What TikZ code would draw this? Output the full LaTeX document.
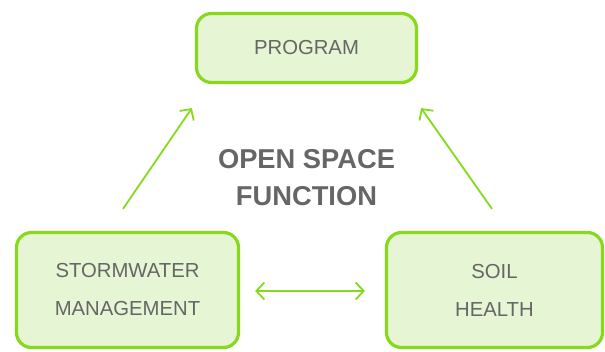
\documentclass[tikz,border=0pt]{standalone}
\usepackage{fontspec}
\setmainfont{Liberation Sans}
\usepackage{tikz}
\usetikzlibrary{arrows.meta,positioning,calc}
\definecolor{limeline}{HTML}{86D91B}
\definecolor{limefill}{HTML}{E6F5D3}
\definecolor{labelgray}{HTML}{666666}

\begin{document}
\begin{tikzpicture}[x=1pt,y=-1pt,
    box/.style={draw=limeline, fill=limefill, line width=3.2pt, rounded corners=15pt,
                align=center, text=labelgray, inner sep=0pt,
                font=\fontsize{20.3}{38}\selectfont},
    link/.style={draw=limeline, line width=1.8pt, -{Straight Barb[length=8pt,width=17pt]}},
    bilink/.style={draw=limeline, line width=1.8pt,
                   {Straight Barb[length=8pt,width=17pt]}-{Straight Barb[length=8pt,width=17pt]}}]
  \useasboundingbox (0,0) rectangle (605,352);

  \node[box, minimum width=220pt, minimum height=69pt] (program) at (306.5,48) {PROGRAM};
  \node[box, minimum width=222pt, minimum height=115pt] (stormwater) at (127.5,290)
    {STORMWATER\\MANAGEMENT};
  \node[box, minimum width=216pt, minimum height=115pt] (soil) at (494.5,290)
    {SOIL\\HEALTH};

  \node[align=center, text=labelgray, font=\fontsize{27.3}{37}\bfseries\selectfont] (osf)
    at (306.5,178) {OPEN SPACE\\FUNCTION};

  \draw[link] ([xshift=-4.5pt,yshift=22pt]stormwater.north) -- ([xshift=-3pt,yshift=-24pt]program.south west);
  \draw[link] ([xshift=-2.5pt,yshift=22pt]soil.north) -- ([xshift=3pt,yshift=-24pt]program.south east);
  \draw[bilink] ([xshift=15pt,yshift=-1pt]stormwater.east) -- ([xshift=-20pt,yshift=-1pt]soil.west);
\end{tikzpicture}
\end{document}
